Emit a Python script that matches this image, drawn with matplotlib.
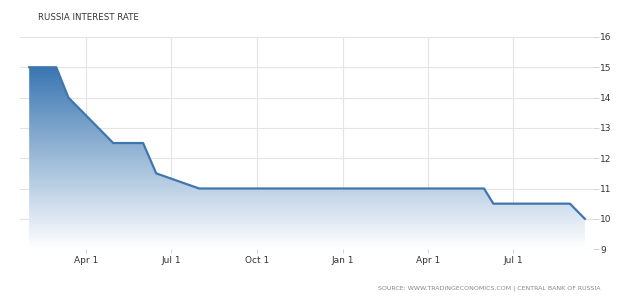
import matplotlib
matplotlib.use("Agg")
import matplotlib.pyplot as plt
import matplotlib.dates as mdates
import numpy as np
import pandas as pd
from matplotlib.colors import LinearSegmentedColormap

# Russia key rate, vertices
dates = pd.to_datetime([
    "2015-01-30", "2015-02-28", "2015-03-13", "2015-04-30", "2015-06-01",
    "2015-06-15", "2015-07-31", "2016-05-31", "2016-06-10", "2016-08-31",
    "2016-09-16",
])
rates = [15, 15, 14, 12.5, 12.5, 11.5, 11, 11, 10.5, 10.5, 10]

tick_dates = pd.to_datetime(["2015-04-01", "2015-07-01", "2015-10-01",
                             "2016-01-01", "2016-04-01", "2016-07-01"])
tick_labels = ["Apr 1", "Jul 1", "Oct 1", "Jan 1", "Apr 1", "Jul 1"]
y_ticks = [9, 10, 11, 12, 13, 14, 15, 16]

line_col = "#3f76ae"
text_col = "#333333"

fig = plt.figure(figsize=(6.4, 2.98), dpi=100)
ax = fig.add_axes([0.031, 0.164, 0.896, 0.712])

x = mdates.date2num(dates)
ax.set_xlim(mdates.date2num(pd.Timestamp("2015-01-20")),
            mdates.date2num(pd.Timestamp("2016-09-25")))
ax.set_ylim(9, 16)

# gradient fill under the line
cmap = LinearSegmentedColormap.from_list("fade", ["#ffffff", "#3a76b2"])
grad = np.linspace(0, 1, 256).reshape(-1, 1)
poly = ax.fill_between(x, rates, 9, color="none", lw=0)
img = ax.imshow(grad, extent=[x[0], x[-1], 9, 15], origin="lower",
                cmap=cmap, aspect="auto", zorder=1)
img.set_clip_path(poly.get_paths()[0], transform=ax.transData)
ax.plot(x, rates, color=line_col, lw=1.6, zorder=3, solid_joinstyle="round")

ax.set_xticks(mdates.date2num(tick_dates))
ax.set_xticklabels(tick_labels)
ax.set_yticks(y_ticks)
ax.yaxis.tick_right()
ax.grid(True, color="#e4e4e4", lw=0.8, zorder=0)
ax.set_axisbelow(True)
for s in ax.spines.values():
    s.set_visible(False)
ax.tick_params(axis="both", labelsize=6.5, colors=text_col, length=3,
               width=0.6, pad=2)
ax.tick_params(axis="both", color="#cccccc")
ax.tick_params(axis="y", length=4, pad=1)

fig.text(0.059, 0.933, "RUSSIA INTEREST RATE", fontsize=6.2, color=text_col)
fig.text(0.938, 0.027, "SOURCE: WWW.TRADINGECONOMICS.COM | CENTRAL BANK OF RUSSIA",
         fontsize=4.5, color="#888888", ha="right")

fig.savefig("out.png", dpi=100)
